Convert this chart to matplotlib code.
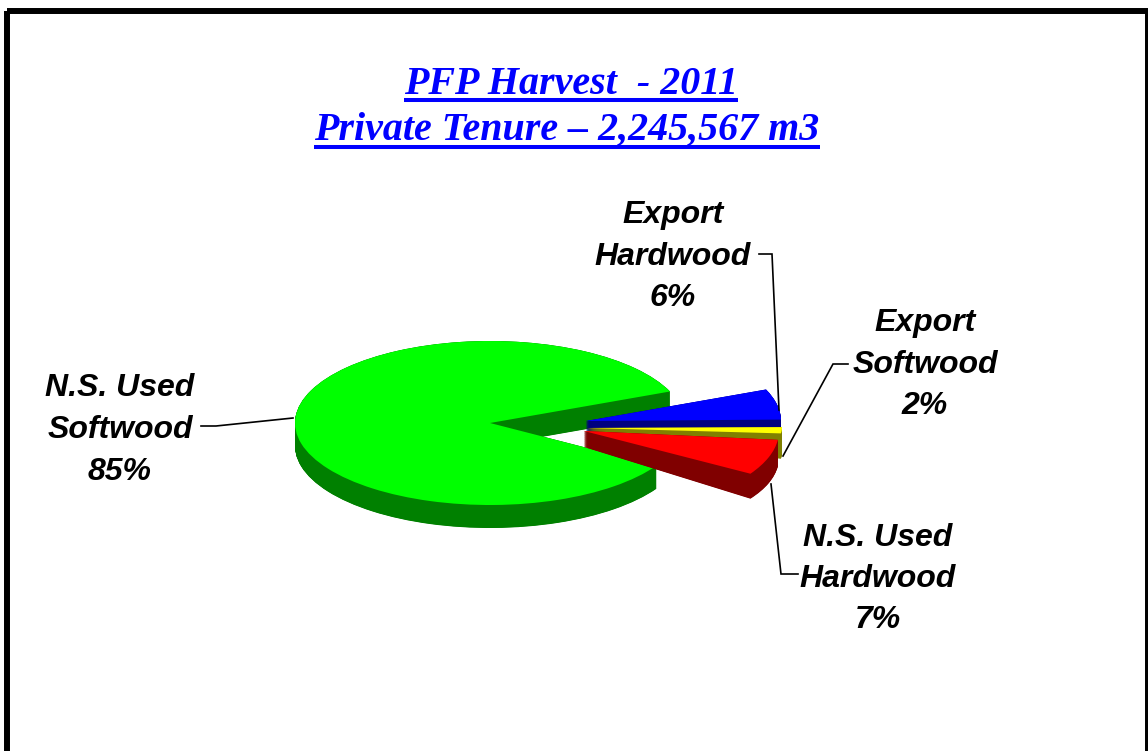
import numpy as np
import matplotlib
matplotlib.use("Agg")
import matplotlib.pyplot as plt
from matplotlib.patches import Wedge, Rectangle
from matplotlib.transforms import Affine2D

# ================= DATA ================= #
TITLE_LINES = ["PFP Harvest  - 2011", "Private Tenure \u2013 2,245,567 m3"]
CATEGORIES = ["N.S. Used\nSoftwood", "N.S. Used\nHardwood", "Export\nSoftwood", "Export\nHardwood"]
SHARES = [85, 7, 2, 6]

# ================= STYLE ================= #
TOP_COLORS = ["#00ff00", "#ff0000", "#ffff00", "#0000ff"]
SIDE_COLORS = ["#008000", "#800000", "#808000", "#000080"]

# tip position in pixels, wall depth at the tip and slope of the depth with x
TIPS = [(490, 423), (584, 431), (587, 428), (586, 421)]
DEPTHS = [23, 16, 6, 10]
DEPTH_SLOPES = [0, 0.054, 0.1, 0.05]
# vertical radius of each slice, the yellow one is drawn flatter in the original
RADII_Y = [82, 82, 50, 82]
LABEL_POS = [(120, 430), (878, 579), (925, 365), (673, 257)]

RX = 195
START = 22.6

fig = plt.figure(figsize=(11.48, 7.51), dpi=100)
ax = fig.add_axes([0, 0, 1, 1])
ax.set_xlim(0, 1148)
ax.set_ylim(751, 0)
ax.axis("off")

# ---- frame ----
ax.add_patch(Rectangle((7, 11), 1141, 800, fill=False, edgecolor="black", linewidth=4.3))


def place(tip, ry, depth=0.0, slope=0.0):
    # unit circle -> flattened pie in pixel space
    return Affine2D.from_values(RX, slope * RX, 0, -ry, tip[0], tip[1] + depth) + ax.transData


# ---- pie, back to front ----
angles = START + np.cumsum([0] + SHARES) * 3.6
order = [0, 3, 2, 1]
for i in order:
    th1, th2 = angles[i], angles[i + 1]
    for t in np.linspace(1, 0, (DEPTHS[i] + 12) * 2 + 1):
        w = Wedge((0, 0), 1, th1, th2, facecolor=SIDE_COLORS[i], edgecolor="none")
        w.set_transform(place(TIPS[i], RADII_Y[i], t * DEPTHS[i], t * DEPTH_SLOPES[i]))
        ax.add_patch(w)
    w = Wedge((0, 0), 1, th1, th2, facecolor=TOP_COLORS[i], edgecolor="none")
    w.set_transform(place(TIPS[i], RADII_Y[i]))
    ax.add_patch(w)

# ---- leader lines ----
leaders = [
    ([201, 216, 293], [426, 426, 418]),
    ([771, 781, 798], [484, 574, 574]),
    ([848, 833, 783], [364, 364, 456]),
    ([759, 772, 779], [254, 254, 410]),
]
for xs, ys in leaders:
    ax.plot(xs, ys, color="black", linewidth=1.2, solid_joinstyle="miter")

# ---- labels ----
for name, share, pos in zip(CATEGORIES, SHARES, LABEL_POS):
    ax.text(pos[0], pos[1], f"{name}\n{share}%", ha="center", va="center",
            family="Liberation Sans", fontsize=23, fontweight="bold", fontstyle="italic",
            linespacing=1.5, color="black")

# ---- title, underlined by hand ----
renderer = fig.canvas.get_renderer()
for line, x, y, uy in zip(TITLE_LINES, [571, 567], [84, 130], [99.5, 147]):
    txt = ax.text(x, y, line, ha="center", va="center", family="Liberation Serif",
                  fontsize=28.8, fontweight="bold", fontstyle="italic", color="#0000ff")
    box = txt.get_window_extent(renderer)
    ax.plot([box.x0, box.x1], [uy, uy], color="#0000ff", linewidth=2.9, solid_capstyle="butt")

fig.savefig("out.png", dpi=100)
